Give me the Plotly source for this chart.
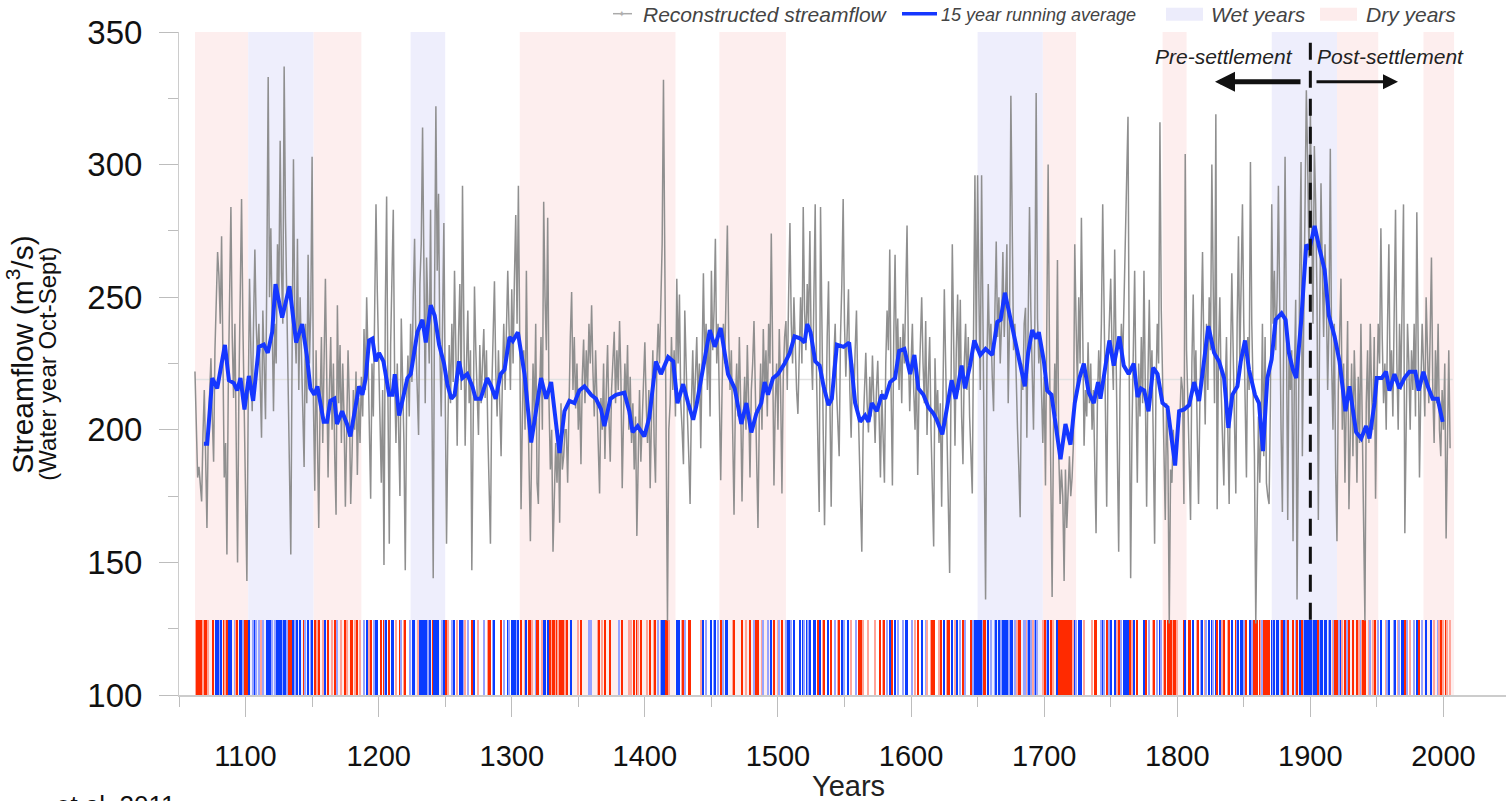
import plotly.graph_objects as go

# ---------------- data ----------------
flow_1062 = [222, 200, 182, 186, 178, 173, 198, 215,
             190, 163, 200, 215, 227, 205, 188, 230, 250, 267,
             258, 240, 273, 215, 182, 195, 153, 215, 250, 284,
             235, 212, 240, 195, 150, 215, 255, 287, 240, 205,
             180, 143, 210, 257, 230, 207, 240, 268, 240, 225,
             240, 215, 197, 245, 225, 204, 260, 333, 250, 276,
             240, 207, 240, 225, 270, 250, 309, 260, 240, 337,
             280, 245, 210, 185, 153, 230, 302, 240, 225, 272,
             215, 250, 230, 205, 186, 240, 210, 266, 225, 245,
             303, 210, 177, 230, 195, 163, 210, 235, 195, 225,
             257, 220, 182, 215, 235, 200, 225, 190, 168, 247,
             210, 232, 195, 225, 205, 171, 200, 230, 210]
flow_1179 = [172,
             190, 215, 200, 222, 183, 212, 195, 220, 205, 238,
             215, 250, 228, 200, 174, 225, 205, 245, 285, 252,
             230, 205, 180, 215, 149, 245, 288, 210, 157, 232,
             260, 283, 220, 195, 225, 205, 175, 242, 215, 195,
             147, 210, 228, 205, 240, 218, 250, 272, 232, 212,
             198, 255, 270, 314, 250, 210, 265, 240, 225, 283,
             205, 144, 250, 322, 260, 289, 230, 205, 240, 278,
             215, 157, 200, 232, 210, 240, 218, 260, 230, 194,
             235, 255, 215, 292, 240, 194, 225, 245, 210, 230,
             147, 205, 254, 230, 215, 198, 232, 210, 225, 238,
             212, 230, 200, 180, 157, 215, 240, 256, 222, 205,
             230, 210, 190, 220, 240, 215, 235, 260, 238]
flow_1299 = [215,
             253, 225, 257, 281, 240, 292, 235, 170, 205, 230,
             200, 260, 215, 190, 158, 195, 225, 205, 240, 180,
             172, 215, 235, 200, 286, 250, 230, 280, 210, 185,
             200, 154, 175, 195, 180, 200, 165, 210, 185, 190,
             200, 200, 180, 215, 235, 252, 215, 235, 208, 225,
             200, 215, 187, 220, 234, 210, 230, 215, 240, 225,
             247, 222, 205, 230, 210, 195, 176, 212, 200, 225,
             189, 215, 232, 205, 188, 215, 225, 237, 210, 230,
             215, 241, 220, 178, 205, 225, 210, 232, 200, 220,
             195, 210, 185, 205, 160, 195, 215, 188, 205, 222,
             233, 210, 195, 215, 178, 205, 230, 195, 180, 225,
             240, 225, 247, 270, 332, 250, 190, 128, 200]
flow_1419 = [210,
             235, 215, 230, 205, 257, 225, 251, 210, 200, 187,
             245, 220, 205, 190, 172, 210, 230, 205, 220, 235,
             210, 225, 193, 235, 259, 225, 240, 215, 235, 205,
             260, 230, 245, 272, 225, 240, 205, 181, 215, 240,
             225, 250, 277, 235, 215, 230, 200, 168, 210, 225,
             205, 235, 210, 173, 205, 220, 200, 232, 210, 182,
             215, 225, 241, 210, 190, 163, 205, 225, 200, 238,
             215, 230, 205, 240, 225, 274, 230, 179, 210, 225,
             200, 238, 215, 176, 220, 235, 241, 215, 250, 278,
             240, 225, 250, 230, 215, 206, 235, 250, 225, 284,
             245, 230, 255, 240, 275, 230, 215, 250, 285, 220, 190]
flow_1531 = [169, 284, 230, 200, 164, 210, 235, 256, 205,
             171, 215, 230, 240, 215, 200, 190, 235, 255, 287,
             240, 220, 235, 253, 215, 197, 225, 210, 230, 245,
             215, 190, 175, 154, 200, 215, 229, 210, 199, 220,
             205, 228, 210, 195, 215, 226, 205, 182, 215, 200,
             180, 225, 245, 230, 268, 215, 179, 235, 266, 225,
             242, 215, 235, 210, 240, 225, 250, 277, 230, 207,
             225, 240, 215, 200, 225, 183, 215, 235, 250, 225,
             210, 241, 198, 220, 235, 200, 175, 156, 227, 205,
             215, 195, 210, 171, 215, 253, 225, 200, 180, 146,
             215, 270, 235, 194, 230, 251, 215, 249, 205, 187,
             225, 240, 215, 235, 205, 190, 176, 240, 296]
flow_1649 = [230,
             296, 250, 215, 296, 240, 190, 136, 225, 255, 230,
             240, 220, 207, 245, 271, 235, 250, 225, 240, 267,
             235, 250, 270, 210, 240, 326, 260, 230, 240, 215,
             200, 185, 167, 225, 215, 240, 246, 197, 240, 284,
             245, 225, 200, 240, 327, 242, 225, 235, 210, 195,
             220, 179, 240, 300, 230, 190, 137, 200, 225, 205,
             264, 190, 172, 185, 175, 143, 185, 163, 180, 190,
             175, 182, 195, 270, 240, 215, 250, 225, 280, 230,
             194, 215, 205, 233, 210, 225, 200, 215, 185, 161,
             210, 230, 215, 240, 285, 240, 215, 171, 225, 240,
             257, 230, 215, 268, 230, 200, 154, 215, 240, 225,
             250, 270, 295, 318, 215, 144, 200]
flow_1767 = [225, 260, 215,
             180, 225, 205, 235, 210, 260, 205, 171, 220, 249,
             215, 230, 195, 157, 215, 240, 225, 316, 245, 220,
             200, 166, 210, 190, 127, 185, 180, 200, 188, 190,
             195, 205, 205, 220, 215, 172, 304, 230, 210, 190,
             166, 225, 251, 215, 230, 200, 172, 210, 240, 267,
             230, 202, 240, 215, 250, 230, 300, 240, 210, 319,
             170, 230, 250, 215, 200, 179, 215, 235, 200, 172,
             225, 259, 230, 205, 176, 240, 273, 225, 250, 285,
             240, 210, 182, 235, 215, 301, 240, 215, 190, 127,
             175, 205, 180, 200, 240, 190, 235, 180, 175, 172,
             210, 285, 240, 260, 230, 250, 292, 235, 200, 169,
             250, 303, 240, 166, 230]
flow_1885 = [215, 230, 158, 220, 249,
             136, 215, 260, 301, 190, 240, 280, 328, 300, 265,
             322, 270, 240, 307, 285, 250, 166, 240, 293, 260,
             235, 270, 250, 215, 240, 306, 225, 200, 240, 185,
             158, 215, 240, 257, 200, 225, 180, 215, 241, 170,
             205, 225, 190, 230, 210, 180, 220, 195, 240, 200,
             160, 128, 210, 230, 195, 240, 215, 200, 235, 174,
             215, 240, 225, 276, 235, 210, 225, 200, 240, 270,
             215, 230, 205, 240, 283, 225, 200, 240, 215, 250,
             285, 161, 215, 240, 225, 200, 230, 215, 240, 205,
             282, 230, 182, 215, 240, 225, 205, 250, 230, 210,
             235, 265, 215, 195, 230, 210, 240, 200, 190, 215,
             200, 225, 159, 195, 230, 193]

flow_segments = [(1062, flow_1062), (1179, flow_1179), (1299, flow_1299),
                 (1419, flow_1419), (1531, flow_1531), (1649, flow_1649),
                 (1767, flow_1767), (1885, flow_1885)]

# 15-year running average (vertices)
avg_years = [1068.7, 1071.2, 1075.0, 1078.7, 1084.5, 1087.5, 1091.2, 1093.7, 1096.2, 1099.2,
             1102.5, 1105.7, 1110.0, 1113.7, 1116.7, 1120.0, 1122.5, 1127.5, 1133.0, 1138.0,
             1142.5, 1146.0, 1148.7, 1151.7, 1154.0, 1158.7, 1161.2, 1163.7, 1166.7, 1168.7,
             1172.5, 1176.2, 1178.7, 1182.8, 1185.3, 1187.8, 1190.3, 1192.8, 1195.3, 1197.8,
             1200.3, 1203.6, 1207.9, 1210.4, 1212.1, 1215.4, 1217.9, 1221.6, 1224.1, 1229.1,
             1232.9, 1235.4, 1239.1, 1242.1, 1245.4, 1249.1, 1251.6, 1254.6, 1257.1, 1260.4,
             1262.9, 1266.6, 1270.4, 1272.9, 1276.6, 1281.6, 1284.6, 1287.9, 1291.6, 1294.6,
             1298.3, 1300.8, 1304.6, 1309.6, 1314.6, 1318.3, 1322.0, 1325.9, 1329.6, 1335.9,
             1339.6, 1343.3, 1347.1, 1350.8, 1354.6, 1359.6, 1363.3, 1367.1, 1369.6, 1374.1,
             1378.3, 1384.6, 1388.3, 1390.8, 1394.6, 1399.6, 1403.3, 1408.3, 1412.1, 1417.5,
             1421.3, 1424.5, 1428.8, 1432.5, 1436.3, 1438.8, 1443.8, 1448.8, 1452.5, 1457.0,
             1462.5, 1467.5, 1472.5, 1476.3, 1480.0, 1483.8, 1487.5, 1490.0, 1492.5, 1496.3,
             1500.0, 1505.0, 1508.8, 1512.5, 1517.0, 1520.0, 1522.0, 1524.5, 1528.0, 1531.3,
             1534.3, 1538.0, 1540.5, 1544.3, 1549.3, 1553.5, 1558.0, 1561.8, 1565.5, 1568.0,
             1570.5, 1574.3, 1578.0, 1580.5, 1584.3, 1588.0, 1591.0, 1595.0, 1599.3, 1602.5,
             1605.5, 1609.3, 1613.0, 1616.8, 1619.3, 1623.5, 1626.8, 1630.5, 1633.5, 1638.0,
             1640.5, 1644.3, 1647.5, 1652.0, 1656.0, 1661.0, 1664.8, 1667.3, 1670.5, 1673.5,
             1678.0, 1681.5, 1685.5, 1688.0, 1691.0, 1694.0, 1696.0, 1699.8, 1702.3, 1705.5,
             1708.5, 1712.3, 1716.0, 1719.8, 1723.0, 1726.5, 1729.8, 1733.5, 1737.3, 1740.5,
             1742.3, 1746.0, 1749.0, 1752.3, 1756.5, 1759.8, 1763.5, 1767.3, 1770.2, 1772.7,
             1775.2, 1778.4, 1781.9, 1785.2, 1788.9, 1792.7, 1795.2, 1798.4, 1801.4, 1805.2,
             1808.9, 1812.7, 1816.4, 1818.9, 1823.4, 1827.7, 1831.4, 1835.2, 1838.4, 1841.4,
             1845.2, 1847.7, 1850.9, 1853.9, 1858.4, 1861.4, 1864.4, 1867.7, 1870.9, 1873.9,
             1878.4, 1881.4, 1883.9, 1886.9, 1889.4, 1893.2, 1896.9, 1899.4, 1903.2, 1906.9,
             1910.7, 1913.9, 1918.2, 1921.9, 1924.4, 1926.4, 1929.4, 1931.9, 1934.4, 1938.2,
             1941.9, 1944.4, 1948.2, 1949.9, 1953.7, 1956.9, 1959.4, 1963.2, 1966.9, 1970.7,
             1974.4, 1978.9, 1981.4, 1984.9, 1988.2, 1991.9, 1995.7, 1999.4]
avg_values = [194.7, 194.7, 219.5, 215.6, 232.0, 218.7, 217.6, 214.8, 219.5, 207.7,
              220.3, 210.9, 231.3, 232.1, 229.0, 236.8, 254.9, 242.3, 254.1, 232.9,
              239.9, 228.2, 215.6, 213.2, 216.4, 203.0, 203.0, 210.9, 211.7, 202.2,
              207.0, 202.2, 197.5, 210.1, 216.4, 213.2, 219.5, 233.7, 234.4, 225.8,
              229.0, 225.8, 213.2, 213.2, 221.0, 205.4, 211.7, 219.5, 221.0, 236.8,
              241.5, 232.9, 247.0, 243.1, 232.1, 225.0, 217.2, 211.7, 213.2, 225.8,
              219.5, 221.0, 216.4, 211.7, 211.7, 219.5, 216.4, 211.7, 221.0, 222.7,
              235.0, 233.5, 236.8, 221.0, 195.2, 207.0, 219.5, 211.7, 218.0, 191.2,
              207.0, 210.9, 210.1, 214.8, 216.4, 213.2, 211.7, 207.7, 201.4, 211.7,
              213.2, 214.0, 207.0, 199.1, 201.4, 197.5, 204.6, 225.8, 221.0, 227.4,
              225.8, 210.0, 217.2, 210.1, 203.8, 209.3, 224.2, 237.6, 231.3, 238.4,
              221.0, 215.6, 202.2, 210.1, 199.0, 206.2, 210.1, 218.0, 213.2, 219.5,
              221.0, 225.0, 228.9, 235.2, 234.4, 232.9, 239.9, 236.8, 225.8, 224.2,
              216.4, 209.3, 211.7, 232.1, 231.3, 232.9, 210.1, 203.0, 205.4, 203.0,
              210.1, 207.0, 213.2, 211.7, 218.0, 219.5, 229.7, 230.5, 221.0, 228.2,
              215.6, 213.2, 208.5, 206.2, 203.8, 198.3, 207.7, 218.7, 211.7, 224.2,
              215.6, 224.2, 233.7, 228.2, 230.5, 228.2, 240.7, 241.5, 251.7, 244.6,
              232.9, 224.2, 216.4, 229.0, 237.6, 234.4, 236.8, 225.8, 214.8, 213.2,
              202.2, 188.9, 202.2, 194.4, 210.1, 219.5, 225.0, 214.0, 210.1, 218.0,
              211.7, 225.0, 233.7, 224.2, 235.2, 224.2, 221.0, 225.0, 212.4, 215.6,
              214.8, 207.0, 223.4, 221.0, 210.1, 208.5, 199.1, 186.5, 207.0, 207.7,
              209.3, 218.0, 210.9, 221.0, 239.1, 229.0, 225.8, 219.5, 200.7, 213.2,
              216.4, 225.8, 233.7, 222.7, 213.2, 210.1, 192.0, 219.5, 226.5, 241.5,
              243.9, 241.5, 229.0, 222.7, 219.5, 241.5, 269.8, 268.2, 276.9, 268.2,
              260.4, 243.1, 235.2, 225.8, 214.0, 207.0, 216.4, 208.5, 199.1, 196.7,
              201.4, 196.7, 210.1, 219.5, 219.5, 221.9, 214.8, 221.0, 215.6, 219.5,
              221.9, 221.9, 214.8, 221.9, 216.4, 211.7, 211.7, 203.0]

wet_start = [1102, 1224, 1650, 1871]
wet_end = [1151, 1250, 1699, 1920]
dry_start = [1062, 1151, 1306, 1456, 1699, 1789, 1920, 1985]
dry_end = [1102, 1187, 1423, 1506, 1724, 1807, 1951, 2008]

mean_flow = 219
settlement_year = 1900
x_ticks = [1100, 1200, 1300, 1400, 1500, 1600, 1700, 1800, 1900, 2000]
y_ticks = [100, 150, 200, 250, 300, 350]

# ---------------- build series ----------------
years, flow = [], []
for start, vals in flow_segments:
    years += list(range(start, start + len(vals)))
    flow += vals

STRONG_RED, PALE_RED = "#ff2a00", "#ffa59a"
STRONG_BLUE, PALE_BLUE = "#0a3cff", "#98a4ff"
stripe_x, stripe_c = [], []
for yr, v in zip(years, flow):
    if v >= 250:
        c = STRONG_BLUE
    elif v >= 238:
        c = PALE_BLUE
    elif v < 192:
        c = STRONG_RED
    elif v < 203:
        c = PALE_RED
    else:
        continue
    stripe_x.append(yr)
    stripe_c.append(c)

STRIPE_TOP = 128.4

fig = go.Figure()
fig.add_trace(go.Bar(x=stripe_x, y=[STRIPE_TOP - 100] * len(stripe_x), base=100,
                     width=1.0, marker=dict(color=stripe_c, line=dict(width=0)),
                     hoverinfo="skip"))
fig.add_trace(go.Scatter(x=years, y=flow, mode="lines",
                         line=dict(color="#8f8f8f", width=1.5)))
fig.add_trace(go.Scatter(x=avg_years, y=avg_values, mode="lines",
                         line=dict(color="#1537ff", width=4)))

shapes = []
for s, e in zip(dry_start, dry_end):
    shapes.append(dict(type="rect", xref="x", yref="y", x0=s, x1=e, y0=100, y1=350,
                       fillcolor="#fdeeee", line=dict(width=0), layer="below"))
for s, e in zip(wet_start, wet_end):
    shapes.append(dict(type="rect", xref="x", yref="y", x0=s, x1=e, y0=100, y1=350,
                       fillcolor="#eeeefc", line=dict(width=0), layer="below"))
shapes.append(dict(type="line", xref="x", yref="y", x0=years[0], x1=years[-1] + 2,
                   y0=mean_flow, y1=mean_flow, line=dict(color="#e2e2e2", width=1.5),
                   layer="below"))
shapes.append(dict(type="line", xref="x", yref="y", x0=settlement_year, x1=settlement_year,
                   y0=STRIPE_TOP, y1=350, line=dict(color="#111", width=3, dash="17px,11px"),
                   layer="above"))

# figure fills the page (body margin removed by a post script)
W, H = 1506, 801
L, R, T, B = 179, 1506, 32.3, 695.3

def px(x):  # page pixel -> paper x
    return (x - L) / (R - L)
def py(y):  # page pixel -> paper y
    return (B - y) / (B - T)

# legend
shapes.append(dict(type="line", xref="paper", yref="paper", x0=px(613), x1=px(632),
                   y0=py(14), y1=py(14), line=dict(color="#aaaaaa", width=1.5)))
shapes.append(dict(type="line", xref="paper", yref="paper", x0=px(902), x1=px(937),
                   y0=py(14), y1=py(14), line=dict(color="#1537ff", width=3.6)))
shapes.append(dict(type="rect", xref="paper", yref="paper", x0=px(1166), x1=px(1203),
                   y0=py(21), y1=py(8), fillcolor="#ececfb", line=dict(width=0)))
shapes.append(dict(type="rect", xref="paper", yref="paper", x0=px(1320), x1=px(1357),
                   y0=py(21), y1=py(8), fillcolor="#fdecec", line=dict(width=0)))

ann = []
def text(x, y, s, size, color="#333", xanchor="left", angle=0):
    ann.append(dict(xref="paper", yref="paper", x=px(x), y=py(y), text=s, showarrow=False,
                    xanchor=xanchor, yanchor="middle", textangle=angle,
                    font=dict(size=size, color=color)))

ann.append(dict(xref="paper", yref="paper", x=px(622), y=py(14), text="✦", showarrow=False,
                xanchor="center", yanchor="middle", font=dict(size=9, color="#b0b0b0")))
text(641, 15, "<i>Reconstructed streamflow</i>", 21, "#444")
text(939, 15, "<i>15 year running average</i>", 18, "#444")
text(1209, 15, "<i>Wet years</i>", 21, "#444")
text(1364, 15, "<i>Dry years</i>", 21, "#444")
text(1295, 57, "<i>Pre-settlement</i>", 21, "#222", xanchor="right")
text(1315, 57, "<i>Post-settlement</i>", 21, "#222")
ann.append(dict(xref="paper", yref="paper", x=px(1215), y=py(82), ax=87, ay=0, text="",
                showarrow=True, arrowhead=2, arrowsize=0.8, arrowwidth=5, arrowcolor="#111"))
ann.append(dict(xref="paper", yref="paper", x=px(1398), y=py(82), ax=-83, ay=0, text="",
                showarrow=True, arrowhead=2, arrowsize=1, arrowwidth=3, arrowcolor="#111"))
text(20, 355, "Streamflow (m<sup>3</sup>/s)", 30, "#111", xanchor="center", angle=-90)
text(48, 364, "(Water year Oct-Sept)", 24, "#111", xanchor="center", angle=-90)
text(848, 786, "Years", 29, "#222", xanchor="center")
ann.append(dict(xref="paper", yref="paper", x=px(178), y=py(788), text="et al. 2011",
                showarrow=False, xanchor="right", yanchor="top",
                font=dict(size=26, color="#111")))

fig.update_layout(
    width=W, height=H,
    margin=dict(l=L, r=W - R, t=T, b=H - B, autoexpand=False),
    paper_bgcolor="white", plot_bgcolor="white",
    showlegend=False, bargap=0,
    font=dict(family="Liberation Sans, Arial, sans-serif", color="#111"),
    shapes=shapes, annotations=ann,
    xaxis=dict(range=[1050, 2047], tickvals=x_ticks, ticks="outside", ticklen=20,
               tickcolor="#bdbdbd", tickwidth=1, showgrid=False, zeroline=False,
               showline=True, linecolor="#cccccc", linewidth=2,
               tickfont=dict(size=29, color="#111"), ticklabelstandoff=14,
               minor=dict(dtick=50, tick0=0, ticks="outside", ticklen=10,
                          tickcolor="#bdbdbd", tickwidth=1, showgrid=False)),
    yaxis=dict(range=[100, 350], tickvals=y_ticks, ticks="outside", ticklen=19,
               tickcolor="#bdbdbd", tickwidth=1, showgrid=False, zeroline=False,
               showline=True, linecolor="#cccccc", linewidth=1,
               tickfont=dict(size=33, color="#111"), ticklabelstandoff=10,
               minor=dict(dtick=25, tick0=0, ticks="outside", ticklen=10,
                          tickcolor="#bdbdbd", tickwidth=1, showgrid=False)),
)

fig.write_html(
    "out.html",
    config={"displayModeBar": False},
    post_script="document.body.style.margin='0';"
                "document.documentElement.style.overflow='hidden';"
                "document.body.style.overflow='hidden';",
)
